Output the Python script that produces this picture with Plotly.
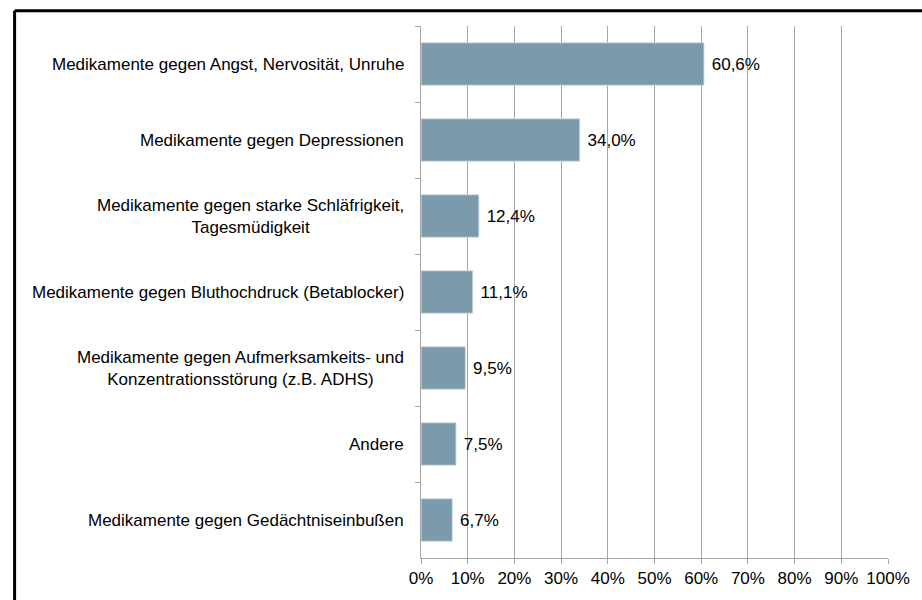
import plotly.graph_objects as go

categories = [
    "Medikamente gegen Angst, Nervosität, Unruhe",
    "Medikamente gegen Depressionen",
    "Medikamente gegen starke Schläfrigkeit,<br>Tagesmüdigkeit",
    "Medikamente gegen Bluthochdruck (Betablocker)",
    "Medikamente gegen Aufmerksamkeits- und<br>Konzentrationsstörung (z.B. ADHS)",
    "Andere",
    "Medikamente gegen Gedächtniseinbußen",
]
values = [60.6, 34.0, 12.4, 11.1, 9.5, 7.5, 6.7]
tick_vals = [0, 10, 20, 30, 40, 50, 60, 70, 80, 90, 100]
tick_text = ["0%", "10%", "20%", "30%", "40%", "50%", "60%", "70%", "80%", "90%", "100%"]

W, H = 922, 600
ML, MR, MT, MB = 421, 27, 26, 35
pw, ph = W - ML - MR, H - MT - MB
FONT = "Liberation Sans, Arial, sans-serif"
FS = 17

fig = go.Figure(go.Bar(
    x=values, y=categories, orientation="h",
    marker=dict(color="#7B9AAB", line=dict(color="#D5DEE4", width=1)),
    width=0.56,
    texttemplate=" %{x:.1f}%", textposition="outside", cliponaxis=False,
    textfont=dict(family=FONT, size=FS, color="#000000"),
    hoverinfo="skip",
))

for c in categories:
    fig.add_annotation(x=(406 - ML) / pw, xref="paper", y=c, yref="y",
                       text=c, showarrow=False, xanchor="right", align="center",
                       font=dict(family=FONT, size=FS, color="#000000"))

# outer frame (top and left edges visible)
fx = (8.5 - ML) / pw
fy = (H - MB - 10.5) / ph
fig.add_shape(type="line", xref="paper", yref="paper", x0=fx, x1=1.2, y0=fy, y1=fy,
              line=dict(color="black", width=3))
fig.add_shape(type="line", xref="paper", yref="paper", x0=fx, x1=fx, y0=fy, y1=-0.2,
              line=dict(color="black", width=3))

fig.update_layout(
    width=W, height=H, margin=dict(l=ML, r=MR, t=MT, b=MB),
    paper_bgcolor="white", plot_bgcolor="white", showlegend=False,
    separators=",.",
    font=dict(family=FONT, size=FS, color="#000000"),
    xaxis=dict(range=[0, 100], tickvals=tick_vals, ticktext=tick_text,
               showgrid=True, gridcolor="#A6A6A6", gridwidth=1,
               showline=True, linecolor="#A6A6A6", linewidth=1,
               ticks="outside", ticklen=5, tickcolor="#A6A6A6",
               zeroline=False, tickfont=dict(family=FONT, size=FS, color="#000000")),
    yaxis=dict(type="category", autorange="reversed", showticklabels=False,
               showline=True, linecolor="#A6A6A6", linewidth=1,
               ticks="outside", ticklen=5, tickcolor="#A6A6A6", tickson="boundaries",
               showgrid=False, zeroline=False),
)

fig.write_html("out.html", config={"displayModeBar": False},
               post_script="document.body.style.margin='0';document.body.style.overflow='hidden';")
